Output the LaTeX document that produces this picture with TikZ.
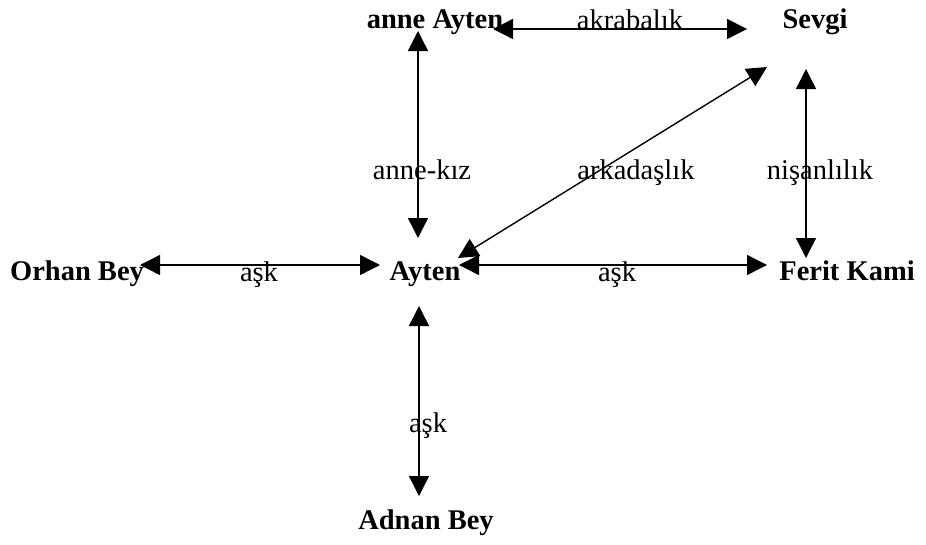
\documentclass[tikz,border=0pt]{standalone}
\usepackage{fontspec}
\setmainfont{Liberation Serif}
\usetikzlibrary{arrows.meta}
\begin{document}
\begin{tikzpicture}[x=1pt,y=-1pt,
  person/.style={anchor=base,inner sep=0pt,font=\fontsize{28.5}{32}\selectfont\bfseries},
  rel/.style={anchor=base,inner sep=0pt,font=\fontsize{28.5}{32}\selectfont},
  link/.style={line width=1.4pt,{Triangle[length=20pt,width=20pt]}-{Triangle[length=20pt,width=20pt]}}]
\useasboundingbox (0,0) rectangle (926,544);
\node[person] (annea) at (435,28) {anne Ayten};
\node[person] (sevgi) at (815,28) {Sevgi};
\node[person] (orhan) at (77,280) {Orhan Bey};
\node[person] (ayten) at (425,280) {Ayten};
\node[person] (ferit) at (847,280) {Ferit Kami};
\node[person] (adnan) at (426,529) {Adnan Bey};
\draw[link] ([shift={(58,1)}]annea.base) -- ([shift={(-68,1)}]sevgi.base);
\draw[link] ([shift={(-17,3)}]annea.base) -- ([shift={(-7,-42)}]ayten.base);
\draw[link] ([shift={(-48,39)}]sevgi.base) -- ([shift={(33,-22)}]ayten.base);
\draw[link] ([shift={(-9,41)}]sevgi.base) -- ([shift={(-41,-22)}]ferit.base);
\draw[link] ([shift={(63,-15)}]orhan.base) -- ([shift={(-45,-15)}]ayten.base);
\draw[link] ([shift={(34,-15)}]ayten.base) -- ([shift={(-80,-15)}]ferit.base);
\draw[link] ([shift={(-6,26)}]ayten.base) -- ([shift={(-7,-33)}]adnan.base);
\node[rel] (akraba) at (630,29) {akrabalık};
\node[rel] (annekiz) at (422,179) {anne-kız};
\node[rel] (arkadas) at (636,179) {arkadaşlık};
\node[rel] (nisan) at (820,179) {nişanlılık};
\node[rel] (ask1) at (259,281) {aşk};
\node[rel] (ask2) at (617,281) {aşk};
\node[rel] (ask3) at (428,432) {aşk};
\end{tikzpicture}
\end{document}
